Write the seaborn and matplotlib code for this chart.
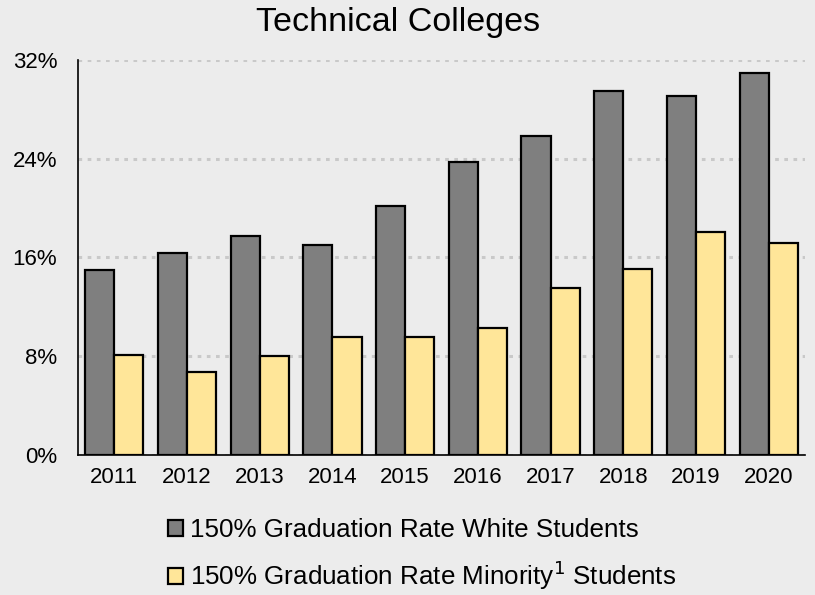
import matplotlib
matplotlib.use('Agg')
import matplotlib.pyplot as plt
import numpy as np
import pandas as pd
import seaborn as sns

years = ['2011', '2012', '2013', '2014', '2015', '2016', '2017', '2018', '2019', '2020']
white_rate = [15.0, 16.4, 17.7, 17.0, 20.2, 23.7, 25.8, 29.5, 29.1, 30.95]
minority_rate = [8.1, 6.7, 8.0, 9.55, 9.55, 10.3, 13.55, 15.05, 18.1, 17.15]
series_names = ['150% Graduation Rate White Students',
                '150% Graduation Rate Minority$^{1}$ Students']
y_ticks = [0, 8, 16, 24, 32]

df = pd.DataFrame({
    'Year': years * 2,
    'Rate': white_rate + minority_rate,
    'Series': [series_names[0]] * len(years) + [series_names[1]] * len(years),
})

sns.set_style('white')
plt.rcParams['font.family'] = ['Liberation Sans', 'DejaVu Sans']
plt.rcParams['text.color'] = 'black'
plt.rcParams['xtick.color'] = 'black'
plt.rcParams['ytick.color'] = 'black'
plt.rcParams['xtick.labelcolor'] = 'black'
plt.rcParams['ytick.labelcolor'] = 'black'
bg = '#ECECEC'

fig = plt.figure(figsize=(8.15, 5.95), dpi=100, facecolor=bg)
ax = fig.add_axes([0.0957, 0.2353, 0.892, 0.664])
ax.set_facecolor(bg)

sns.barplot(data=df, x='Year', y='Rate', hue='Series',
            palette=['#7F7F7F', '#FFE699'], edgecolor='black',
            linewidth=1.6, width=0.8, ax=ax, saturation=1)

ax.set_ylim(0, 32)
ax.set_xlim(-0.5, len(years) - 0.5)
ax.set_yticks(y_ticks)
ax.set_yticklabels([f'{t}%' for t in y_ticks], fontsize=16, color='black')
ax.tick_params(axis='y', length=0, pad=15)
ax.tick_params(axis='x', length=0, labelsize=16, pad=9, labelcolor='black')
ax.set_xticks(np.arange(-0.5, len(years) + 0.5, 1), minor=True)
ax.tick_params(axis='x', which='minor', length=5, width=1.2, direction='out', color='black')

ax.yaxis.grid(True, linestyle=(0, (1.2, 1.8)), color='#C9C9C9', linewidth=2.2)
ax.set_axisbelow(True)
for side in ['top', 'right']:
    ax.spines[side].set_visible(False)
for side in ['left', 'bottom']:
    ax.spines[side].set_color('black')
    ax.spines[side].set_linewidth(1.2)

ax.set_xlabel('')
ax.set_ylabel('')
fig.text(398 / 815, 1 - 22 / 595, 'Technical Colleges', fontsize=24.5,
         ha='center', va='center', color='black')

handles, labels = ax.get_legend_handles_labels()
ax.get_legend().remove()
fig.legend(handles, labels, loc='upper left', bbox_to_anchor=(168 / 815, 1 - 518 / 595),
           ncol=1, frameon=False, fontsize=18.7, handlelength=0.58,
           handleheight=0.58, handletextpad=0.25, labelspacing=0.64,
           borderpad=0, borderaxespad=0)

fig.savefig('out.png', dpi=100, facecolor=bg)
